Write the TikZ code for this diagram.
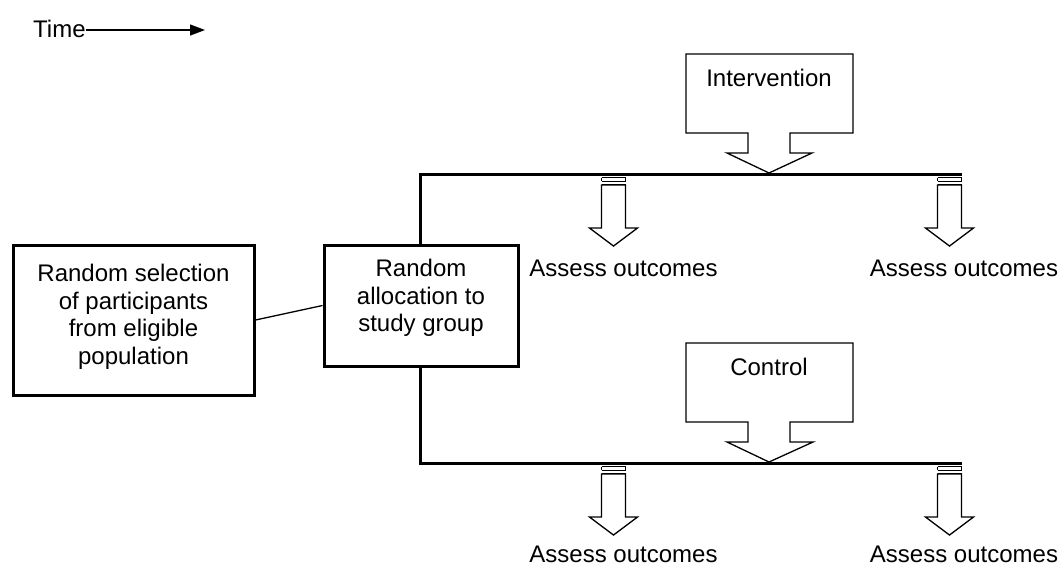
\documentclass[tikz,border=0pt]{standalone}
\usepackage{fontspec}
\setmainfont{Liberation Sans}
\usetikzlibrary{arrows.meta}
\tikzset{
  thickbox/.style={draw=black, line width=3pt, inner sep=0pt},
  txt/.style={inner sep=0pt, align=center, font=\fontsize{24}{27.5}\selectfont},
  thinline/.style={draw=black, line width=1.3pt, line join=miter},
  mainline/.style={draw=black, line width=3pt},
  callout/.style={draw=black, line width=1.3pt, fill=white, line join=miter},
}
\begin{document}
\begin{tikzpicture}[x=1pt,y=-1pt]
\useasboundingbox (0,0) rectangle (1058,566);
\fill[white] (0,0) rectangle (1058,566);

% Time arrow
\node[txt, anchor=west] (time) at (33,29) {Time};
\coordinate (timeend) at (205,30);
\draw[thinline, -{Triangle[length=15pt,width=11pt]}] ([yshift=-1pt]time.east) -- (timeend);

% branch lines
\coordinate (tl) at (420,174);
\coordinate (tr) at (962,174);
\coordinate (bl) at (420,463);
\coordinate (br) at (962,463);
\draw[mainline] (tr) -- (tl) -- (bl) -- (br);

% boxes
\node[thickbox, fill=white, minimum width=241pt, minimum height=150pt] (sel) at (133.5,320) {};
\node[txt] (seltxt) at (133.5,317) {Random selection\\of participants\\from eligible\\population};
\node[thickbox, fill=white, minimum width=194pt, minimum height=121pt] (alloc) at (421,305.5) {};
\node[txt] (alloctxt) at (421,298) {Random\\allocation to\\study group};
\draw[thinline] (sel.east) -- (alloc.west);

% callouts
\draw[callout] (686,54) -- (853,54) -- (853,133) -- (790,133) -- (790,153) -- (812,153) -- (769,173)
  -- (727,153) -- (748,153) -- (748,133) -- (686,133) -- cycle;
\node[txt] (interv) at (769,78) {Intervention};
\draw[callout] (686,343) -- (853,343) -- (853,422) -- (790,422) -- (790,442) -- (813,442) -- (769,462)
  -- (727,442) -- (748,442) -- (748,422) -- (686,422) -- cycle;
\node[txt] (control) at (769,367) {Control};

% small striped block arrows
\foreach \cx/\ty in {613.5/174, 949.5/174, 613.5/463, 949.5/463}{
  \begin{scope}[shift={(\cx,\ty)}]
    \draw[black, line width=1pt] (-12,3.5) -- (12,3.5) (-12,7) -- (12,7) (-12,3.5) -- (-12,7) (12,3.5) -- (12,7);
    \draw[black, line width=1pt] (-12,10.5) -- (12,10.5);
    \draw[callout] (-12,11) -- (12,11) -- (12,54) -- (24,54) -- (0,72) -- (-24,54) -- (-12,54) -- cycle;
  \end{scope}
}
\node[txt] (a1) at (623.5,268) {Assess outcomes};
\node[txt] (a2) at (964,268) {Assess outcomes};
\node[txt] (a3) at (623.5,554) {Assess outcomes};
\node[txt] (a4) at (964,554) {Assess outcomes};
\end{tikzpicture}
\end{document}
